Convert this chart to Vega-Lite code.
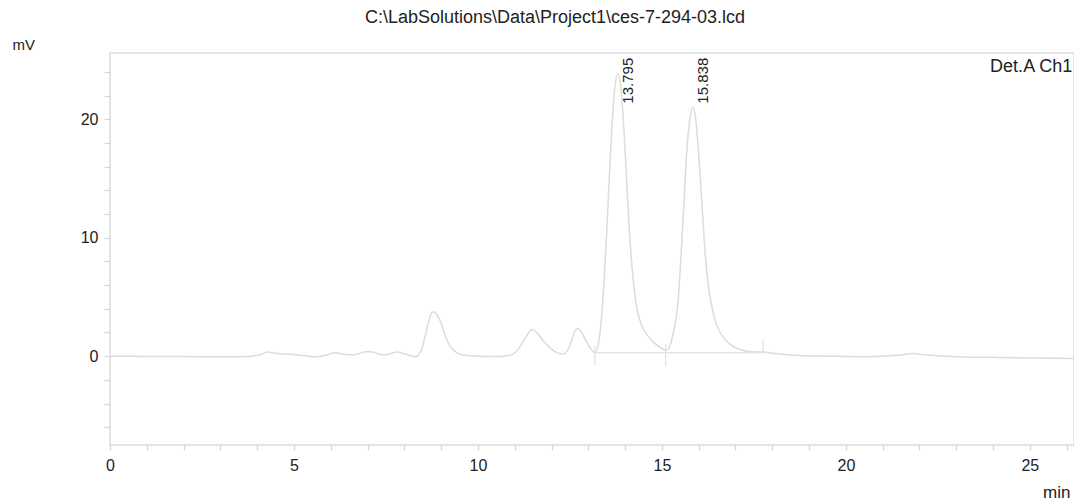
{
  "$schema": "https://vega.github.io/schema/vega-lite/v6.json",
  "width": 964,
  "height": 392,
  "autosize": "none",
  "padding": {"left": 110, "top": 53, "right": 0, "bottom": 55},
  "background": "white",
  "config": {
    "view": {"stroke": "#dddddd", "strokeWidth": 1.5},
    "font": "Liberation Sans",
    "axis": {
      "grid": false,
      "domain": false,
      "tickColor": "#d6d6d6",
      "tickWidth": 1.2,
      "labelOverlap": false,
      "labelFont": "Liberation Sans",
      "labelFontSize": 16,
      "labelColor": "#222222",
      "titleFont": "Liberation Sans",
      "titleFontWeight": "normal",
      "titleColor": "#222222"
    }
  },
  "title": {
    "text": "C:\\LabSolutions\\Data\\Project1\\ces-7-294-03.lcd",
    "fontSize": 18,
    "fontWeight": "normal",
    "color": "#222222",
    "font": "Liberation Sans",
    "anchor": "middle",
    "dx": -37,
    "offset": 10
  },
  "datasets": {
    "trace": [
      {"t": 0.0, "v": 0.0}, {"t": 1.0, "v": -0.02}, {"t": 2.0, "v": -0.03}, {"t": 3.0, "v": -0.05},
      {"t": 3.8, "v": -0.02}, {"t": 4.1, "v": 0.15}, {"t": 4.3, "v": 0.35}, {"t": 4.5, "v": 0.25},
      {"t": 5.0, "v": 0.15}, {"t": 5.6, "v": -0.05}, {"t": 5.9, "v": 0.1}, {"t": 6.1, "v": 0.28},
      {"t": 6.4, "v": 0.15}, {"t": 6.6, "v": 0.1}, {"t": 6.85, "v": 0.3}, {"t": 7.0, "v": 0.4},
      {"t": 7.2, "v": 0.3}, {"t": 7.45, "v": 0.1}, {"t": 7.65, "v": 0.25}, {"t": 7.8, "v": 0.35},
      {"t": 8.0, "v": 0.2}, {"t": 8.3, "v": -0.05}, {"t": 8.45, "v": 0.4}, {"t": 8.55, "v": 1.5},
      {"t": 8.65, "v": 2.8}, {"t": 8.73, "v": 3.6}, {"t": 8.8, "v": 3.75}, {"t": 8.88, "v": 3.5},
      {"t": 9.0, "v": 2.8}, {"t": 9.1, "v": 1.8}, {"t": 9.25, "v": 0.8}, {"t": 9.4, "v": 0.35},
      {"t": 9.6, "v": 0.1}, {"t": 10.0, "v": 0.0}, {"t": 10.5, "v": -0.02}, {"t": 10.9, "v": 0.1},
      {"t": 11.1, "v": 0.6}, {"t": 11.3, "v": 1.6}, {"t": 11.47, "v": 2.25}, {"t": 11.6, "v": 2.0},
      {"t": 11.8, "v": 1.2}, {"t": 12.0, "v": 0.6}, {"t": 12.2, "v": 0.25}, {"t": 12.35, "v": 0.2},
      {"t": 12.5, "v": 0.9}, {"t": 12.63, "v": 2.1}, {"t": 12.72, "v": 2.33}, {"t": 12.8, "v": 2.1},
      {"t": 12.95, "v": 1.2}, {"t": 13.1, "v": 0.5}, {"t": 13.18, "v": 0.25}, {"t": 13.3, "v": 1.5},
      {"t": 13.4, "v": 5.0}, {"t": 13.5, "v": 10.5}, {"t": 13.6, "v": 17.0}, {"t": 13.7, "v": 22.0},
      {"t": 13.795, "v": 23.9}, {"t": 13.88, "v": 22.8}, {"t": 13.98, "v": 18.5}, {"t": 14.08, "v": 12.5},
      {"t": 14.18, "v": 7.8}, {"t": 14.3, "v": 4.4}, {"t": 14.45, "v": 2.6}, {"t": 14.6, "v": 1.8},
      {"t": 14.8, "v": 1.1}, {"t": 15.0, "v": 0.65}, {"t": 15.1, "v": 0.5}, {"t": 15.17, "v": 0.6},
      {"t": 15.25, "v": 1.2}, {"t": 15.35, "v": 2.6}, {"t": 15.43, "v": 4.3}, {"t": 15.52, "v": 8.5},
      {"t": 15.6, "v": 13.0}, {"t": 15.67, "v": 17.0}, {"t": 15.75, "v": 19.8}, {"t": 15.838, "v": 21.0},
      {"t": 15.92, "v": 20.0}, {"t": 16.0, "v": 17.0}, {"t": 16.1, "v": 12.3}, {"t": 16.18, "v": 8.5},
      {"t": 16.26, "v": 6.0}, {"t": 16.35, "v": 4.3}, {"t": 16.45, "v": 3.0}, {"t": 16.58, "v": 2.0},
      {"t": 16.75, "v": 1.3}, {"t": 16.9, "v": 0.9}, {"t": 17.1, "v": 0.6}, {"t": 17.3, "v": 0.42},
      {"t": 17.6, "v": 0.35}, {"t": 17.75, "v": 0.35}, {"t": 18.0, "v": 0.25}, {"t": 18.75, "v": 0.05},
      {"t": 19.5, "v": 0.0}, {"t": 20.5, "v": -0.05}, {"t": 21.5, "v": 0.1}, {"t": 21.8, "v": 0.22},
      {"t": 22.2, "v": 0.1}, {"t": 23.0, "v": -0.05}, {"t": 24.0, "v": -0.1}, {"t": 25.0, "v": -0.15},
      {"t": 26.2, "v": -0.2}
    ],
    "baseline": [{"t1": 13.18, "t2": 17.75, "v": 0.3}],
    "markers": [
      {"t": 13.18, "v1": -0.8, "v2": 0.9},
      {"t": 15.1, "v1": -0.8, "v2": 1.0},
      {"t": 17.75, "v1": 0.3, "v2": 1.35}
    ],
    "peaks": [
      {"t": 13.795, "label": "13.795"},
      {"t": 15.838, "label": "15.838"}
    ],
    "channel": [{"t": 26.15, "v": 24.4, "label": "Det.A Ch1"}]
  },
  "layer": [
    {
      "data": {"name": "trace"},
      "mark": {"type": "line", "color": "#dcdcdc", "strokeWidth": 1.5, "interpolate": "monotone"},
      "encoding": {
        "x": {
          "field": "t", "type": "quantitative",
          "scale": {"domain": [0, 26.2], "nice": false, "zero": false},
          "axis": {
            "values": [0,1,2,3,4,5,6,7,8,9,10,11,12,13,14,15,16,17,18,19,20,21,22,23,24,25,26],
            "tickCount": 200,
            "format": "d",
            "labelExpr": "datum.value % 5 === 0 ? datum.label : ''",
            "labelOverlap": false,
            "labelFlush": false,
            "tickSize": 5,
            "labelPadding": 7,
            "title": "min",
            "titleFontSize": 17,
            "titleAnchor": "start",
            "titleAlign": "right",
            "titleBaseline": "middle",
            "titleX": 960,
            "titleY": 47
          }
        },
        "y": {
          "field": "v", "type": "quantitative",
          "scale": {"domain": [-7.5, 25.6], "nice": false, "zero": false},
          "axis": {
            "values": [-6,-4,-2,0,2,4,6,8,10,12,14,16,18,20,22,24],
            "tickCount": 200,
            "format": "d",
            "labelExpr": "datum.value % 10 === 0 ? datum.label : ''",
            "labelOverlap": false,
            "labelFlush": false,
            "tickSize": 6,
            "labelPadding": 6,
            "title": "mV",
            "titleFontSize": 15,
            "titleAngle": 0,
            "titleAlign": "left",
            "titleBaseline": "middle",
            "titleX": -98,
            "titleY": -9
          }
        }
      }
    },
    {
      "data": {"name": "baseline"},
      "mark": {"type": "rule", "color": "#e6e6e6", "strokeWidth": 1.5},
      "encoding": {
        "x": {"field": "t1", "type": "quantitative"},
        "x2": {"field": "t2"},
        "y": {"field": "v", "type": "quantitative"}
      }
    },
    {
      "data": {"name": "markers"},
      "mark": {"type": "rule", "color": "#e0e0e0", "strokeWidth": 1.2},
      "encoding": {
        "x": {"field": "t", "type": "quantitative"},
        "y": {"field": "v1", "type": "quantitative"},
        "y2": {"field": "v2"}
      }
    },
    {
      "data": {"name": "peaks"},
      "mark": {"type": "text", "angle": 270, "align": "right", "baseline": "top", "fontSize": 15, "color": "#222222", "dy": 3, "font": "Liberation Sans"},
      "encoding": {
        "x": {"field": "t", "type": "quantitative"},
        "y": {"datum": 25.2, "type": "quantitative"},
        "text": {"field": "label"}
      }
    },
    {
      "data": {"name": "channel"},
      "mark": {"type": "text", "align": "right", "baseline": "middle", "fontSize": 18, "color": "#222222", "font": "Liberation Sans"},
      "encoding": {
        "x": {"field": "t", "type": "quantitative"},
        "y": {"field": "v", "type": "quantitative"},
        "text": {"field": "label"}
      }
    }
  ]
}
